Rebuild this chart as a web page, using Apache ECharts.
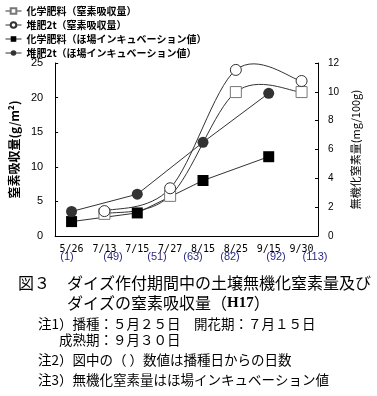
<!DOCTYPE html>
<html><head><meta charset="utf-8">
<script src="https://cdn.jsdelivr.net/npm/echarts@6/dist/echarts.min.js"></script>
<style>html,body{margin:0;padding:0;background:#fff}#c{width:377px;height:396px}</style>
</head><body><div id="c"></div>
<script>
// ---- data ----
const dates = ['5/26', '7/13', '7/15', '7/27', '8/15', '8/25', '9/15', '9/30'];
const dayLabels = ['(1)', '(49)', '(51)', '(63)', '(82)', '(92)', '(113)'];
const seriesNames = ['化学肥料（窒素吸収量）', '堆肥2t（窒素吸収量）', '化学肥料（ほ場インキュベーション値）', '堆肥2t（ほ場インキュベーション値）'];
const chemUptake = [null, 3.2, null, 5.8, null, 20.8, null, 20.8];
const compostUptake = [null, 3.6, null, 6.9, null, 24.0, null, 22.4];
const chemIncub = [1.0, null, 1.6, null, 3.85, null, 5.5, null];
const compostIncub = [1.7, null, 2.9, null, 6.5, null, 9.9, null];
const leftAxisName = '窒素吸収量(g/m²)';
const rightAxisName = '無機化窒素量(mg/100g)';
const captionLines = ['図３', 'ダイズ作付期間中の土壌無機化窒素量及び', 'ダイズの窒素吸収量（', 'H17', '）'];
const notes = ['注1）播種：５月２５日　開花期：７月１５日', '成熟期：９月３０日', '注2）図中の（ ）数値は播種日からの日数', '注3）無機化窒素量はほ場インキュベーション値'];

// ---- layout (positions only) ----
const dayLabelX = [67, 113, 157, 193, 230, 276, 315];
const noteLayout = [[38, 324], [59, 340], [38, 360], [38, 380]];

const chart = echarts.init(document.getElementById('c'), null, {renderer: 'canvas'});
const CJK = '"Noto Sans CJK JP", sans-serif';
const lineStyle = {color: '#333', width: 1};

// smooth curve through the data points, positioned with the chart's own axes (api.coord)
function smoothCurve(values) {
  return {
    type: 'custom', yAxisIndex: 0, silent: true, z: 1,
    data: values.map((v, i) => [i, v]).filter(d => d[1] != null),
    renderItem: function (params, api) {
      if (params.dataIndex !== 0) return;
      const pts = [];
      values.forEach((v, i) => { if (v != null) pts.push(api.coord([i, v])); });
      let d = 'M' + pts[0][0] + ' ' + pts[0][1];
      for (let i = 0; i < pts.length - 1; i++) {
        const p0 = pts[i - 1] || pts[i], p1 = pts[i], p2 = pts[i + 1], p3 = pts[i + 2] || pts[i + 1];
        const c1 = [p1[0] + (p2[0] - p0[0]) / 6, p1[1] + (p2[1] - p0[1]) / 6];
        const c2 = [p2[0] - (p3[0] - p1[0]) / 6, p2[1] - (p3[1] - p1[1]) / 6];
        d += ' C' + c1[0] + ' ' + c1[1] + ' ' + c2[0] + ' ' + c2[1] + ' ' + p2[0] + ' ' + p2[1];
      }
      return {type: 'path', shape: {pathData: d}, style: {stroke: '#333', fill: null, lineWidth: 1}};
    }
  };
}

const graphic = [];
dayLabels.forEach((t, i) => graphic.push({
  type: 'text', x: dayLabelX[i], y: 257,
  style: {text: t, fill: '#2b2b86', font: '11px "Liberation Sans", Arial, sans-serif', textAlign: 'center', textVerticalAlign: 'middle'}
}));
graphic.push({type: 'text', x: 18, y: 283, style: {text: captionLines[0], fill: '#000', font: '16px ' + CJK, textVerticalAlign: 'middle'}});
graphic.push({type: 'text', x: 67, y: 283, style: {text: captionLines[1], fill: '#000', font: '16px ' + CJK, textVerticalAlign: 'middle'}});
graphic.push({type: 'text', x: 67, y: 303, style: {
  text: captionLines[2] + '{h|' + captionLines[3] + '}' + captionLines[4],
  fill: '#000', font: '16px ' + CJK, textVerticalAlign: 'middle',
  rich: {h: {fontFamily: '"Liberation Serif", serif', fontWeight: 'bold', fontSize: 15, fill: '#000'}}
}});
notes.forEach((t, i) => graphic.push({
  type: 'text', x: noteLayout[i][0], y: noteLayout[i][1],
  style: {text: t, fill: '#000', font: '13.5px ' + CJK, textVerticalAlign: 'middle'}
}));

const legendLine = {color: '#333', width: 1, opacity: 1, type: 'solid'};

const option = {
  backgroundColor: '#fff',
  animation: false,
  legend: {
    orient: 'vertical', left: 0, top: 1, itemWidth: 16, itemHeight: 7, itemGap: 4,
    textStyle: {fontSize: 10, fontFamily: CJK, fontWeight: 'bold', color: '#000', lineHeight: 10},
    data: seriesNames.map(n => ({name: n, lineStyle: legendLine}))
  },
  grid: {left: 53, right: 59, top: 63, bottom: 160},
  xAxis: {
    type: 'category', data: dates, boundaryGap: true,
    axisLine: {lineStyle: {color: '#000', width: 1}},
    axisTick: {inside: true, length: 3, lineStyle: {color: '#000'}},
    axisLabel: {fontSize: 10, fontFamily: '"DejaVu Sans Mono", monospace', color: '#000', margin: 8, interval: 0}
  },
  yAxis: [{
    type: 'value', min: 0, max: 25, interval: 5,
    name: leftAxisName, nameLocation: 'middle', nameRotate: 90, nameGap: 25,
    nameTextStyle: {fontSize: 12, fontFamily: CJK, fontWeight: 'bold', color: '#000'},
    axisLine: {show: true, lineStyle: {color: '#000'}},
    axisTick: {show: true, inside: true, length: 3, lineStyle: {color: '#000'}},
    axisLabel: {fontSize: 11, fontFamily: '"Liberation Sans", Arial, sans-serif', color: '#000', margin: 12},
    splitLine: {show: false}
  }, {
    type: 'value', min: 0, max: 12, interval: 2, position: 'right',
    name: rightAxisName, nameLocation: 'middle', nameRotate: 90, nameGap: 26,
    nameTextStyle: {fontSize: 11, fontFamily: CJK, color: '#000'},
    axisLine: {show: true, lineStyle: {color: '#000'}},
    axisTick: {show: true, inside: true, length: 3, lineStyle: {color: '#000'}},
    axisLabel: {fontSize: 10, fontFamily: '"Liberation Sans", Arial, sans-serif', color: '#000', margin: 10},
    splitLine: {show: false}
  }],
  series: [
    smoothCurve(chemUptake),
    smoothCurve(compostUptake),
  {
    name: seriesNames[0], type: 'line', yAxisIndex: 0, data: chemUptake, connectNulls: true,
    symbol: 'rect', symbolSize: 11, lineStyle: {color: '#333', width: 1, opacity: 0},
    itemStyle: {color: '#fff', borderColor: '#777', borderWidth: 1}
  }, {
    name: seriesNames[1], type: 'line', yAxisIndex: 0, data: compostUptake, connectNulls: true,
    symbol: 'circle', symbolSize: 11, lineStyle: {color: '#333', width: 1, opacity: 0},
    itemStyle: {color: '#fff', borderColor: '#333', borderWidth: 1}
  }, {
    name: seriesNames[2], type: 'line', yAxisIndex: 1, data: chemIncub, connectNulls: true,
    symbol: 'rect', symbolSize: 11, lineStyle: lineStyle,
    itemStyle: {color: '#000', borderColor: '#000', borderWidth: 0}
  }, {
    name: seriesNames[3], type: 'line', yAxisIndex: 1, data: compostIncub, connectNulls: true,
    symbol: 'circle', symbolSize: 11, lineStyle: lineStyle,
    itemStyle: {color: '#333', borderColor: '#333', borderWidth: 0}
  }],
  graphic: graphic
};
chart.setOption(option);
</script>
</body></html>
